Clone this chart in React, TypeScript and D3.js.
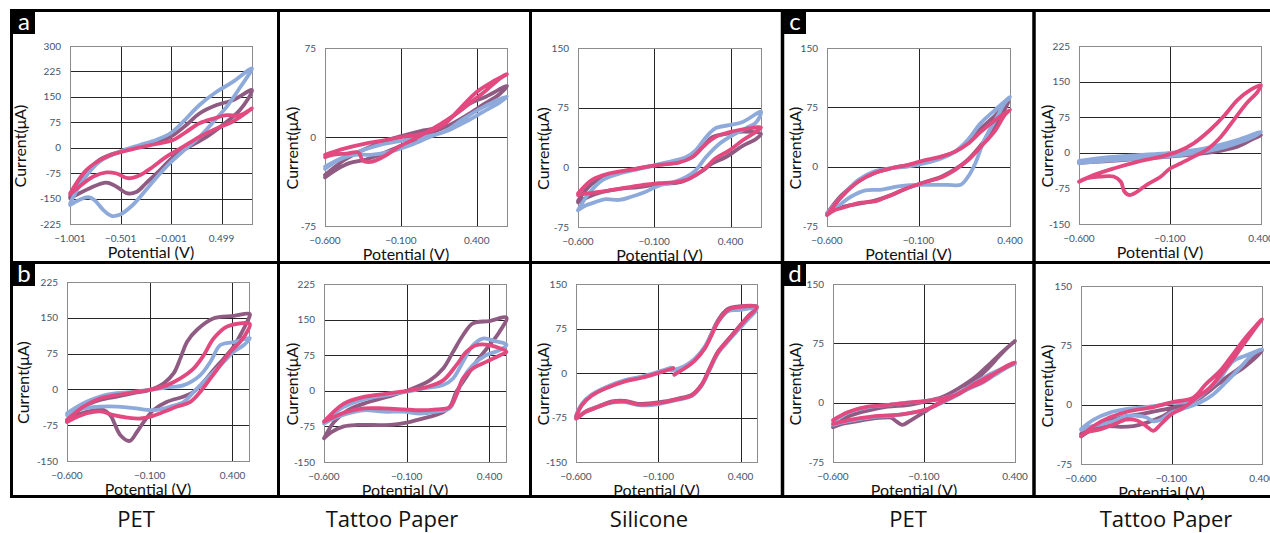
import React from 'react';
import * as d3 from 'd3';

type Pt = [number, number];

// ---- cyclic voltammograms, [potential (V), current (µA)] ----
// a: PET / Tattoo Paper / Silicone (row 1)
const petA_blue: Pt[] = [[-1.0,-164],[-0.87,-95],[-0.71,-41],[-0.51,-12],[-0.31,8],[-0.15,23],[-0.01,42],[0.12,77],[0.28,126],[0.45,165],[0.61,194],[0.8,234],[0.68,177],[0.55,121],[0.42,77],[0.28,32],[0.15,-2],[0.02,-36],[-0.11,-76],[-0.25,-125],[-0.38,-169],[-0.51,-198],[-0.59,-201],[-0.67,-184],[-0.76,-154],[-0.82,-146],[-0.91,-154],[-1.0,-169]];
const petA_purple: Pt[] = [[-1.0,-144],[-0.87,-85],[-0.71,-36],[-0.51,-12],[-0.31,3],[-0.11,18],[0.02,37],[0.15,67],[0.28,101],[0.45,126],[0.61,140],[0.8,170],[0.68,111],[0.51,67],[0.35,32],[0.15,-2],[0.02,-27],[-0.11,-66],[-0.25,-105],[-0.34,-130],[-0.43,-135],[-0.54,-115],[-0.64,-103],[-0.81,-120],[-1.0,-149]];
const petA_pink: Pt[] = [[-1.0,-135],[-0.84,-66],[-0.64,-27],[-0.38,-4],[-0.15,11],[0.02,23],[0.15,47],[0.28,72],[0.42,86],[0.55,96],[0.68,96],[0.8,116],[0.61,77],[0.45,57],[0.28,32],[0.12,3],[-0.05,-27],[-0.18,-56],[-0.31,-81],[-0.43,-90],[-0.54,-76],[-0.64,-73],[-0.77,-85],[-0.91,-115],[-1.0,-137]];

const tattooA_blue: Pt[] = [[-0.6,-25],[-0.48,-17],[-0.35,-11],[-0.22,-6],[-0.09,-3],[0.05,0],[0.18,4],[0.31,15],[0.44,25],[0.6,34],[0.55,29],[0.44,21],[0.33,13],[0.22,6],[0.11,1],[-0.02,-6],[-0.11,-10],[-0.19,-13],[-0.3,-15],[-0.41,-15],[-0.52,-20],[-0.6,-27]];
const tattooA_purple: Pt[] = [[-0.6,-32],[-0.48,-20],[-0.35,-11],[-0.22,-4],[-0.09,1],[0.03,5],[0.14,8],[0.24,17],[0.35,28],[0.46,34],[0.6,43],[0.55,36],[0.44,27],[0.33,18],[0.22,10],[0.11,4],[0.0,-3],[-0.11,-8],[-0.22,-14],[-0.33,-19],[-0.44,-22],[-0.52,-27],[-0.6,-34]];
const tattooA_pink: Pt[] = [[-0.6,-15],[-0.48,-10],[-0.35,-6],[-0.22,-3],[-0.09,0],[0.05,3],[0.18,10],[0.29,24],[0.4,38],[0.51,47],[0.6,53],[0.55,49],[0.46,39],[0.38,31],[0.29,22],[0.2,14],[0.11,7],[0.0,-1],[-0.11,-8],[-0.22,-17],[-0.3,-21],[-0.35,-20],[-0.38,-13],[-0.46,-14],[-0.55,-15],[-0.6,-17]];

const siliconeA_blue: Pt[] = [[-0.6,-54],[-0.53,-33],[-0.44,-16],[-0.33,-8],[-0.2,-2],[-0.07,4],[0.02,8],[0.11,13],[0.17,21],[0.24,38],[0.3,49],[0.39,53],[0.48,57],[0.6,70],[0.57,57],[0.5,49],[0.41,40],[0.33,30],[0.24,13],[0.17,-4],[0.11,-12],[0.02,-19],[-0.07,-23],[-0.16,-31],[-0.25,-37],[-0.33,-41],[-0.42,-40],[-0.49,-44],[-0.55,-48],[-0.6,-54]];
const siliconeA_purple: Pt[] = [[-0.6,-42],[-0.51,-21],[-0.4,-10],[-0.25,-3],[-0.07,3],[0.06,7],[0.15,13],[0.22,26],[0.28,38],[0.37,42],[0.48,45],[0.6,42],[0.57,36],[0.48,27],[0.37,13],[0.28,5],[0.22,-4],[0.15,-12],[0.06,-19],[-0.07,-21],[-0.2,-25],[-0.33,-27],[-0.44,-31],[-0.53,-37],[-0.6,-44]];
const siliconeA_pink: Pt[] = [[-0.6,-33],[-0.51,-16],[-0.4,-8],[-0.25,-3],[-0.07,3],[0.06,6],[0.15,13],[0.22,26],[0.3,38],[0.41,45],[0.52,49],[0.6,50],[0.57,45],[0.48,34],[0.39,21],[0.3,11],[0.24,0],[0.17,-10],[0.11,-16],[0.02,-19],[-0.07,-20],[-0.2,-23],[-0.33,-27],[-0.46,-31],[-0.55,-33],[-0.6,-35]];

// b: PET / Tattoo Paper / Silicone (row 2)
const petB_blue: Pt[] = [[-0.6,-50],[-0.5,-29],[-0.4,-15],[-0.3,-8],[-0.2,-5],[-0.1,-1],[0.005,4],[0.106,9],[0.206,30],[0.267,58],[0.327,93],[0.408,99],[0.505,107],[0.469,93],[0.408,79],[0.348,58],[0.287,37],[0.227,16],[0.166,-5],[0.106,-26],[0.025,-36],[-0.056,-43],[-0.116,-43],[-0.197,-39],[-0.298,-36],[-0.398,-36],[-0.5,-40],[-0.56,-47],[-0.6,-54]];
const petB_purple: Pt[] = [[-0.6,-64],[-0.5,-36],[-0.4,-22],[-0.3,-15],[-0.2,-8],[-0.1,-1],[-0.015,13],[0.045,34],[0.085,65],[0.126,100],[0.186,125],[0.287,149],[0.408,154],[0.505,158],[0.489,142],[0.448,114],[0.408,90],[0.348,65],[0.287,41],[0.227,16],[0.166,-5],[0.106,-15],[0.005,-26],[-0.076,-43],[-0.136,-68],[-0.177,-89],[-0.221,-108],[-0.277,-96],[-0.338,-54],[-0.378,-43],[-0.419,-43],[-0.48,-47],[-0.54,-54],[-0.6,-68]];
const petB_pink: Pt[] = [[-0.6,-64],[-0.5,-36],[-0.4,-19],[-0.3,-12],[-0.2,-6],[-0.1,-1],[0.005,9],[0.085,23],[0.166,44],[0.227,72],[0.287,107],[0.368,132],[0.505,137],[0.489,121],[0.448,100],[0.388,79],[0.327,51],[0.267,23],[0.206,-5],[0.146,-26],[0.065,-36],[-0.015,-47],[-0.096,-57],[-0.156,-61],[-0.237,-59],[-0.318,-54],[-0.398,-46],[-0.479,-50],[-0.56,-61],[-0.6,-68]];

const tattooB_blue: Pt[] = [[-0.6,-65],[-0.48,-34],[-0.36,-18],[-0.22,-9],[-0.1,-2],[0.02,6],[0.12,12],[0.18,26],[0.24,61],[0.3,96],[0.36,110],[0.44,104],[0.503,97],[0.465,86],[0.38,75],[0.3,54],[0.24,26],[0.2,-9],[0.16,-37],[0.08,-44],[-0.02,-48],[-0.12,-44],[-0.24,-44],[-0.36,-41],[-0.46,-48],[-0.54,-58],[-0.6,-69]];
const tattooB_purple: Pt[] = [[-0.6,-100],[-0.54,-66],[-0.46,-42],[-0.36,-27],[-0.22,-13],[-0.1,0],[0.04,22],[0.12,47],[0.18,82],[0.24,117],[0.3,142],[0.4,147],[0.503,154],[0.46,124],[0.4,96],[0.32,61],[0.26,29],[0.2,-2],[0.16,-34],[0.1,-48],[0.0,-58],[-0.1,-67],[-0.2,-72],[-0.3,-72],[-0.4,-72],[-0.48,-75],[-0.55,-86],[-0.6,-100]];
const tattooB_pink: Pt[] = [[-0.6,-65],[-0.48,-27],[-0.36,-13],[-0.22,-6],[-0.1,0],[0.02,8],[0.12,22],[0.2,54],[0.26,82],[0.32,96],[0.4,96],[0.503,82],[0.465,75],[0.38,61],[0.3,47],[0.24,26],[0.2,-9],[0.16,-34],[0.08,-39],[-0.02,-41],[-0.12,-39],[-0.24,-37],[-0.36,-37],[-0.46,-44],[-0.54,-55],[-0.6,-65]];

const siliconeB_blue: Pt[] = [[-0.02,4],[0.061,12],[0.122,24],[0.182,44],[0.223,65],[0.263,86],[0.323,104],[0.384,106],[0.499,108],[0.444,90],[0.384,72],[0.323,53],[0.263,33],[0.212,5],[0.162,-22],[0.102,-39],[0.021,-45],[-0.06,-50],[-0.14,-54],[-0.221,-54],[-0.302,-49],[-0.382,-50],[-0.463,-57],[-0.544,-66],[-0.6,-75],[-0.564,-52],[-0.503,-36],[-0.402,-22],[-0.302,-12],[-0.201,-6],[-0.1,2],[-0.02,9]];
const siliconeB_purple: Pt[] = [[0.0,-2],[0.061,9],[0.122,22],[0.182,43],[0.223,66],[0.263,89],[0.323,108],[0.384,112],[0.499,112],[0.444,95],[0.384,76],[0.323,56],[0.263,36],[0.212,8],[0.162,-20],[0.102,-37],[0.021,-43],[-0.06,-48],[-0.14,-51],[-0.221,-52],[-0.302,-47],[-0.382,-48],[-0.463,-56],[-0.544,-65],[-0.6,-76],[-0.564,-53],[-0.503,-37],[-0.402,-23],[-0.302,-13],[-0.201,-7],[-0.1,1],[-0.01,8]];
const siliconeB_pink: Pt[] = [[-0.003,-3],[0.061,8],[0.122,21],[0.182,41],[0.223,63],[0.263,86],[0.323,106],[0.384,111],[0.499,111],[0.444,94],[0.384,75],[0.323,55],[0.263,35],[0.212,7],[0.162,-21],[0.102,-38],[0.021,-44],[-0.06,-49],[-0.14,-52],[-0.221,-53],[-0.302,-48],[-0.382,-49],[-0.463,-57],[-0.544,-66],[-0.6,-77],[-0.564,-54],[-0.503,-38],[-0.402,-24],[-0.302,-14],[-0.201,-8],[-0.1,0],[-0.009,8]];

// c: PET / Tattoo Paper (row 1)
const petC_blue: Pt[] = [[-0.6,-59],[-0.52,-38],[-0.43,-17],[-0.34,-6],[-0.25,-2],[-0.16,0],[-0.07,4],[0.03,11],[0.1,19],[0.17,34],[0.24,55],[0.32,72],[0.4,88],[0.37,80],[0.32,59],[0.26,34],[0.21,4],[0.17,-13],[0.13,-23],[0.06,-23],[-0.03,-23],[-0.12,-23],[-0.21,-25],[-0.3,-29],[-0.39,-30],[-0.47,-38],[-0.53,-48],[-0.6,-61]];
const petC_purple: Pt[] = [[-0.6,-59],[-0.52,-36],[-0.43,-19],[-0.34,-8],[-0.25,-2],[-0.16,2],[-0.07,6],[0.03,13],[0.1,19],[0.17,32],[0.24,48],[0.32,65],[0.39,82],[0.37,72],[0.32,51],[0.24,27],[0.17,9],[0.1,-3],[0.03,-12],[-0.07,-20],[-0.16,-27],[-0.25,-36],[-0.34,-43],[-0.43,-47],[-0.52,-51],[-0.6,-59]];
const petC_pink: Pt[] = [[-0.6,-61],[-0.52,-38],[-0.43,-19],[-0.34,-8],[-0.25,-2],[-0.16,2],[-0.07,8],[0.03,13],[0.1,19],[0.17,29],[0.24,44],[0.32,59],[0.4,72],[0.37,65],[0.32,46],[0.24,25],[0.17,8],[0.1,-4],[0.03,-13],[-0.07,-20],[-0.16,-27],[-0.25,-36],[-0.34,-44],[-0.43,-46],[-0.5,-51],[-0.56,-55],[-0.6,-61]];

const tattooC_blue: Pt[] = [[-0.6,-17],[-0.46,-10],[-0.28,-5],[-0.1,0],[0.085,9],[0.27,27],[0.4,44],[0.36,34],[0.21,13],[0.085,2],[-0.1,-7],[-0.28,-12],[-0.46,-17],[-0.6,-22]];
const tattooC_purple: Pt[] = [[-0.6,-19],[-0.46,-12],[-0.28,-7],[-0.1,-2],[0.085,4],[0.27,17],[0.4,37],[0.36,30],[0.27,13],[0.14,2],[-0.1,-8],[-0.28,-13],[-0.46,-18],[-0.6,-21]];
const tattooC_pink: Pt[] = [[-0.6,-61],[-0.52,-47],[-0.41,-33],[-0.28,-19],[-0.15,-8],[-0.06,2],[0.03,20],[0.12,48],[0.2,79],[0.27,111],[0.34,132],[0.4,142],[0.38,128],[0.32,104],[0.25,69],[0.18,34],[0.1,6],[0.03,-8],[-0.04,-22],[-0.1,-33],[-0.15,-50],[-0.23,-68],[-0.28,-82],[-0.32,-89],[-0.35,-82],[-0.37,-61],[-0.41,-50],[-0.48,-50],[-0.56,-54],[-0.6,-61]];

// d: PET / Tattoo Paper (row 2)
const petD_blue: Pt[] = [[-0.6,-24],[-0.52,-13],[-0.41,-6],[-0.3,-3],[-0.19,0],[-0.1,2],[0.0,5],[0.09,12],[0.18,25],[0.27,37],[0.4,49],[0.36,45],[0.29,35],[0.22,25],[0.14,17],[0.07,8],[0.0,0],[-0.08,-8],[-0.15,-12],[-0.23,-15],[-0.3,-17],[-0.37,-18],[-0.46,-21],[-0.55,-25],[-0.6,-28]];
const petD_purple: Pt[] = [[-0.6,-31],[-0.52,-18],[-0.41,-10],[-0.3,-5],[-0.19,-3],[-0.1,1],[0.0,7],[0.09,18],[0.18,32],[0.27,51],[0.34,66],[0.4,78],[0.36,70],[0.31,58],[0.25,43],[0.18,28],[0.1,13],[0.03,5],[-0.04,-3],[-0.1,-12],[-0.17,-22],[-0.22,-28],[-0.25,-24],[-0.28,-19],[-0.33,-19],[-0.41,-21],[-0.48,-24],[-0.55,-27],[-0.6,-31]];
const petD_pink: Pt[] = [[-0.6,-22],[-0.52,-12],[-0.41,-5],[-0.3,-3],[-0.19,0],[-0.1,2],[0.0,5],[0.09,11],[0.18,24],[0.27,35],[0.4,51],[0.36,47],[0.29,37],[0.22,26],[0.14,18],[0.07,9],[0.0,1],[-0.08,-8],[-0.15,-12],[-0.23,-15],[-0.3,-16],[-0.37,-17],[-0.46,-20],[-0.55,-24],[-0.6,-27]];

const tattooD_blue: Pt[] = [[-0.6,-31],[-0.53,-19],[-0.44,-10],[-0.33,-5],[-0.2,-2],[-0.1,2],[0.02,5],[0.09,17],[0.17,34],[0.24,55],[0.31,62],[0.4,70],[0.35,64],[0.28,47],[0.2,28],[0.13,13],[0.06,3],[-0.02,-4],[-0.1,-10],[-0.16,-19],[-0.2,-21],[-0.24,-16],[-0.29,-14],[-0.35,-14],[-0.42,-21],[-0.49,-25],[-0.57,-29],[-0.6,-32]];
const tattooD_purple: Pt[] = [[-0.6,-40],[-0.49,-25],[-0.38,-16],[-0.27,-12],[-0.16,-7],[-0.1,-4],[0.02,5],[0.09,17],[0.17,28],[0.24,38],[0.31,49],[0.4,68],[0.35,62],[0.28,47],[0.2,34],[0.13,21],[0.06,9],[-0.02,0],[-0.1,-8],[-0.16,-16],[-0.24,-23],[-0.31,-27],[-0.38,-28],[-0.46,-27],[-0.53,-29],[-0.6,-37]];
const tattooD_pink: Pt[] = [[-0.6,-40],[-0.53,-27],[-0.44,-16],[-0.33,-8],[-0.2,-3],[-0.1,3],[0.02,9],[0.09,26],[0.17,43],[0.24,64],[0.31,85],[0.4,108],[0.37,99],[0.31,80],[0.26,64],[0.19,43],[0.11,21],[0.04,9],[-0.035,-4],[-0.1,-12],[-0.16,-25],[-0.2,-33],[-0.24,-27],[-0.29,-20],[-0.35,-19],[-0.42,-25],[-0.49,-31],[-0.57,-35],[-0.6,-40]];

// ---- axes ----
const xTicksWide = [-1.001, -0.501, -0.001, 0.499];
const xTicksStd = [-0.6, -0.1, 0.4];
const yTicks300 = [-225, -150, -75, 0, 75, 150, 225, 300];
const yTicks75 = [-75, 0, 75];
const yTicks150 = [-75, 0, 75, 150];
const yTicks225 = [-150, -75, 0, 75, 150, 225];
const yTicksSym150 = [-150, -75, 0, 75, 150];

const materials = ['PET', 'Tattoo Paper', 'Silicone', 'PET', 'Tattoo Paper'];
const materialX = [136, 392, 649, 908, 1166];

const COLORS = { purple: '#8f5b82', blue: '#8eaadb', pink: '#e2497f' };
const FONT = "Lato, 'Open Sans', sans-serif";
const fmt = d3.format('.3f');

interface PanelSpec {
  x: number; y: number; w: number; h: number;
  xDomain: [number, number]; xTicks: number[]; yTicks: number[];
  titleGap: number;
  purple: Pt[]; blue: Pt[]; pink: Pt[];
}

const panels: PanelSpec[] = [
  { x: 70, y: 46, w: 182, h: 178, xDomain: [-1.001, 0.8], xTicks: xTicksWide, yTicks: yTicks300, titleGap: 50, purple: petA_purple, blue: petA_blue, pink: petA_pink },
  { x: 325, y: 48, w: 182, h: 178, xDomain: [-0.6, 0.6], xTicks: xTicksStd, yTicks: yTicks75, titleGap: 33, purple: tattooA_purple, blue: tattooA_blue, pink: tattooA_pink },
  { x: 578, y: 48, w: 183, h: 179, xDomain: [-0.6, 0.6], xTicks: xTicksStd, yTicks: yTicks150, titleGap: 35, purple: siliconeA_purple, blue: siliconeA_blue, pink: siliconeA_pink },
  { x: 827, y: 48, w: 183, h: 178, xDomain: [-0.6, 0.4], xTicks: xTicksStd, yTicks: yTicks150, titleGap: 32, purple: petC_purple, blue: petC_blue, pink: petC_pink },
  { x: 1079, y: 46, w: 182, h: 178, xDomain: [-0.6, 0.4], xTicks: xTicksStd, yTicks: yTicks225, titleGap: 32, purple: tattooC_purple, blue: tattooC_blue, pink: tattooC_pink },
  { x: 67, y: 282, w: 182, h: 179, xDomain: [-0.6, 0.5], xTicks: xTicksStd, yTicks: yTicks225, titleGap: 44, purple: petB_purple, blue: petB_blue, pink: petB_pink },
  { x: 324, y: 284, w: 182, h: 178, xDomain: [-0.6, 0.5], xTicks: xTicksStd, yTicks: yTicks225, titleGap: 32, purple: tattooB_purple, blue: tattooB_blue, pink: tattooB_pink },
  { x: 576, y: 284, w: 181, h: 178, xDomain: [-0.6, 0.5], xTicks: xTicksStd, yTicks: yTicksSym150, titleGap: 33, purple: siliconeB_purple, blue: siliconeB_blue, pink: siliconeB_pink },
  { x: 833, y: 284, w: 182, h: 178, xDomain: [-0.6, 0.4], xTicks: xTicksStd, yTicks: yTicks150, titleGap: 38, purple: petD_purple, blue: petD_blue, pink: petD_pink },
  { x: 1081, y: 286, w: 181, h: 178, xDomain: [-0.6, 0.4], xTicks: xTicksStd, yTicks: yTicks150, titleGap: 34, purple: tattooD_purple, blue: tattooD_blue, pink: tattooD_pink },
];

const crisp = (v: number) => Math.round(v) + 0.5;

const Panel = ({ p }: { p: PanelSpec }) => {
  const yMin = p.yTicks[0];
  const yMax = p.yTicks[p.yTicks.length - 1];
  const x = d3.scaleLinear().domain(p.xDomain).range([p.x, p.x + p.w]);
  const y = d3.scaleLinear().domain([yMin, yMax]).range([p.y + p.h, p.y]);
  const line = d3.line<Pt>().x(d => x(d[0])).y(d => y(d[1])).curve(d3.curveCatmullRom.alpha(0.5));
  const cx = p.x + p.w / 2;
  const cy = p.y + p.h / 2 + 11;

  return (
    <g>
      {p.yTicks.slice(1, -1).map(t => (
        <line key={'h' + t} x1={p.x} x2={p.x + p.w} y1={crisp(y(t))} y2={crisp(y(t))} stroke="#262626" strokeWidth={1} />
      ))}
      {p.xTicks.filter(t => t > p.xDomain[0] + 1e-6 && t < p.xDomain[1] - 1e-6).map(t => (
        <line key={'v' + t} y1={p.y} y2={p.y + p.h} x1={crisp(x(t))} x2={crisp(x(t))} stroke="#262626" strokeWidth={1} />
      ))}
      <rect x={crisp(p.x)} y={crisp(p.y)} width={Math.round(p.w)} height={Math.round(p.h)} fill="none" stroke="#8c8c8c" strokeWidth={1} />
      {p.yTicks.map(t => (
        <text key={'yl' + t} x={p.x - 9} y={y(t)} dy="0.35em" textAnchor="end" fontSize={10} fill="#44546a" fontFamily={FONT}>{t}</text>
      ))}
      {p.xTicks.map(t => (
        <text key={'xl' + t} x={x(t)} y={p.y + p.h + 18} textAnchor="middle" fontSize={10} fill="#44546a" fontFamily={FONT}>{fmt(t)}</text>
      ))}
      <path d={line(p.purple) || ''} fill="none" stroke={COLORS.purple} strokeWidth={3.8} strokeLinejoin="round" strokeLinecap="round" />
      <path d={line(p.blue) || ''} fill="none" stroke={COLORS.blue} strokeWidth={3.8} strokeLinejoin="round" strokeLinecap="round" />
      <path d={line(p.pink) || ''} fill="none" stroke={COLORS.pink} strokeWidth={3.8} strokeLinejoin="round" strokeLinecap="round" />
      <text transform={`translate(${p.x - p.titleGap},${cy}) rotate(-90)`} textAnchor="middle" dy="0.35em" fontSize={16} fill="#111" fontFamily={FONT}>Current(μA)</text>
      <text x={cx - 10} y={p.y + p.h + 34} textAnchor="middle" fontSize={16} fill="#111" fontFamily={FONT}>Potential (V)</text>
    </g>
  );
};

const Tag = ({ x, y, label }: { x: number; y: number; label: string }) => (
  <g>
    <rect x={x} y={y} width={22} height={22} fill="#000" />
    <text x={x + 11} y={y + 18} textAnchor="middle" fontSize={24} fill="#fff" fontFamily={FONT}>{label}</text>
  </g>
);

export default function App() {
  const k = '#000';
  return (
    <svg width={1270} height={533} style={{ position: 'absolute', left: 0, top: 0, background: '#fff' }}>
      <rect x={0} y={0} width={1270} height={533} fill="#fff" />
      {panels.map((p, i) => <Panel key={i} p={p} />)}
      {/* frame */}
      <line x1={10} x2={1270} y1={10.5} y2={10.5} stroke={k} strokeWidth={3} />
      <line x1={10} x2={1270} y1={262.5} y2={262.5} stroke={k} strokeWidth={3} />
      <line x1={10} x2={1270} y1={496.5} y2={496.5} stroke={k} strokeWidth={3} />
      <line x1={11.5} x2={11.5} y1={9} y2={498} stroke={k} strokeWidth={3} />
      <line x1={278.5} x2={278.5} y1={9} y2={498} stroke={k} strokeWidth={3} />
      <line x1={530.5} x2={530.5} y1={9} y2={498} stroke={k} strokeWidth={3} />
      <line x1={782.5} x2={782.5} y1={9} y2={498} stroke={k} strokeWidth={3.5} />
      <line x1={1034} x2={1034} y1={9} y2={498} stroke={k} strokeWidth={3.5} />
      <Tag x={13} y={12} label="a" />
      <Tag x={13} y={264} label="b" />
      <Tag x={784} y={12} label="c" />
      <Tag x={784} y={264} label="d" />
      {materials.map((m, i) => (
        <text key={i} x={materialX[i]} y={527} textAnchor="middle" fontSize={22} fill="#111" fontFamily="'Open Sans', Lato, sans-serif">{m}</text>
      ))}
    </svg>
  );
}
